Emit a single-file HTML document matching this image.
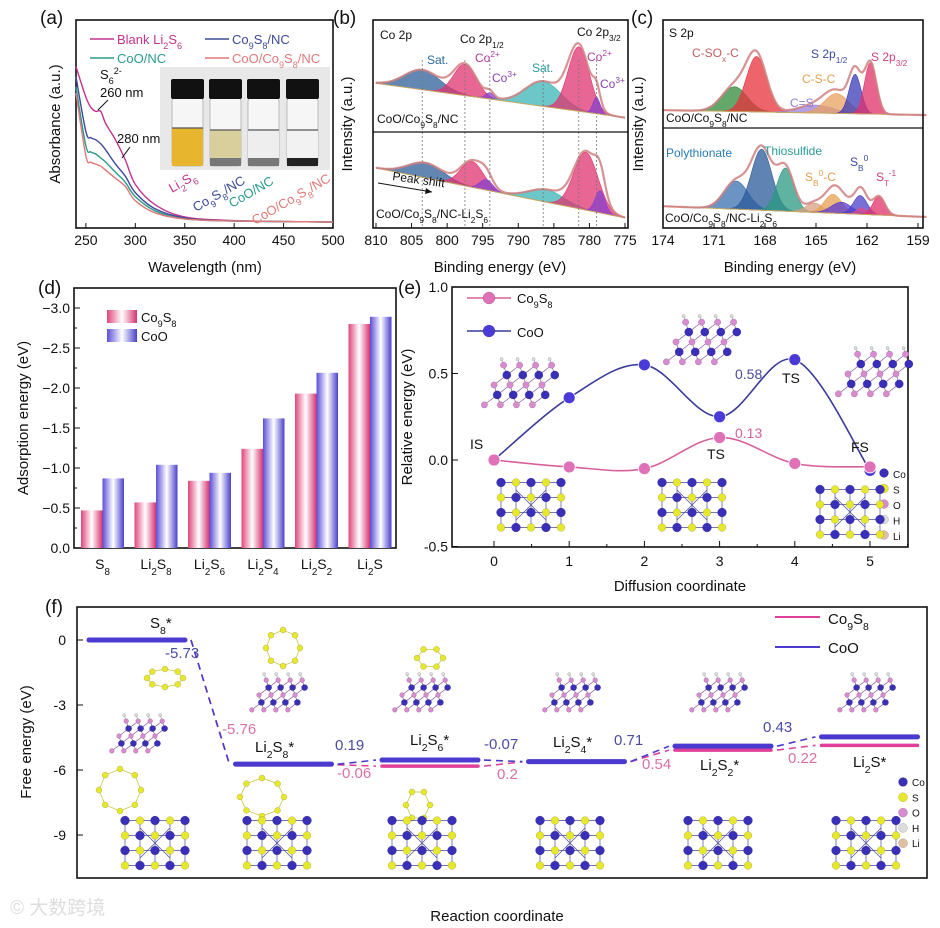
<!DOCTYPE html>
<html><head><meta charset="utf-8"><title>Figure</title>
<style>
html,body{margin:0;padding:0;background:#fff;}
svg{display:block;font-family:"Liberation Sans","Noto Sans CJK SC",sans-serif;}
</style></head>
<body>
<svg id="fig" width="940" height="928" viewBox="0 0 940 928" xmlns="http://www.w3.org/2000/svg">
<defs>
<linearGradient id="gPink" x1="0" x2="1" y1="0" y2="0"><stop offset="0" stop-color="#e0457a"/><stop offset="0.5" stop-color="#fff"/><stop offset="1" stop-color="#d63370"/></linearGradient>
<linearGradient id="gBlue" x1="0" x2="1" y1="0" y2="0"><stop offset="0" stop-color="#5a4ed8"/><stop offset="0.5" stop-color="#fff"/><stop offset="1" stop-color="#4a40cc"/></linearGradient>
</defs>
</svg>
<script>
// ---------- DATA ----------
const aWave=[240,250,255,260,265,270,280,290,300,320,350,400,500];
const aBlank=[0.77,0.62,0.57,0.55,0.55,0.49,0.41,0.31,0.19,0.09,0.03,0.012,0.005];
const aCo9S8=[0.72,0.45,0.42,0.41,0.39,0.36,0.29,0.23,0.15,0.07,0.025,0.01,0.005];
const aCoO=[0.67,0.38,0.35,0.34,0.32,0.30,0.25,0.20,0.13,0.06,0.02,0.01,0.005];
const aCoOCo9S8=[0.64,0.33,0.30,0.29,0.28,0.26,0.22,0.18,0.11,0.05,0.02,0.01,0.005];
const aTicks=[250,300,350,400,450,500];
const bTopCenters=[803.5,797.5,794.0,786.5,781.5,779.0];
const bTopAmps=[0.19,0.30,0.06,0.24,0.62,0.16];
const bTopWidths=[2.5,1.6,0.6,2.5,1.5,0.5];
const bTopBg=[0.43,0.10];
const bBotCenters=[803.0,796.5,794.5,786.0,780.5,778.5];
const bBotAmps=[0.17,0.29,0.12,0.14,0.65,0.25];
const bBotWidths=[2.5,1.6,0.9,2.5,1.7,0.7];
const bBotBg=[0.64,0.08];
const bTicks=[810,805,800,795,790,785,780,775];
const cTopCenters=[169.8,168.5,165.0,163.8,162.7,161.8];
const cTopAmps=[0.25,0.56,0.08,0.20,0.40,0.52];
const cTopWidths=[0.75,0.6,1.0,0.7,0.35,0.35];
const cTopBg=[0.13,0.08];
const cBotCenters=[169.7,168.2,166.8,165.1,164.0,163.5,162.4,162.3,161.3];
const cBotAmps=[0.30,0.65,0.46,0.10,0.20,0.12,0.20,0.07,0.20];
const cBotWidths=[0.7,0.6,0.5,0.5,0.5,0.6,0.4,0.3,0.35];
const cBotBg=[0.20,0.085];
const cTicks=[174,171,168,165,162,159];
const dCats=['S<tspan baseline-shift="sub" font-size="70%">8</tspan>','Li<tspan baseline-shift="sub" font-size="70%">2</tspan>S<tspan baseline-shift="sub" font-size="70%">8</tspan>','Li<tspan baseline-shift="sub" font-size="70%">2</tspan>S<tspan baseline-shift="sub" font-size="70%">6</tspan>','Li<tspan baseline-shift="sub" font-size="70%">2</tspan>S<tspan baseline-shift="sub" font-size="70%">4</tspan>','Li<tspan baseline-shift="sub" font-size="70%">2</tspan>S<tspan baseline-shift="sub" font-size="70%">2</tspan>','Li<tspan baseline-shift="sub" font-size="70%">2</tspan>S'];
const dCo9S8=[-0.47,-0.57,-0.84,-1.24,-1.93,-2.80];
const dCoO=[-0.87,-1.04,-0.94,-1.62,-2.19,-2.89];
const dTicks=[0,-0.5,-1.0,-1.5,-2.0,-2.5,-3.0];
const eCoords=[0,1,2,3,4,5];
const eCoO=[0,0.36,0.55,0.25,0.58,-0.06];
const eCo9S8=[0,-0.04,-0.05,0.13,-0.02,-0.04];
const eYTicks=[1.0,0.5,0.0,-0.5];
const fSteps=['S8','Li2S8','Li2S6','Li2S4','Li2S2','Li2S'];
const fCoO=[0,-5.73,-5.54,-5.61,-4.90,-4.47];
const fCo9S8=[0,-5.76,-5.82,-5.62,-5.08,-4.86];
const fYTicks=[0,-3,-6,-9];

// ---------- HELPERS ----------
const NS='http://www.w3.org/2000/svg';
const svg=document.getElementById('fig');
function mk(tag,attrs,parent){const e=document.createElementNS(NS,tag);for(const k in attrs)e.setAttribute(k,attrs[k]);(parent||svg).appendChild(e);return e;}
function T(x,y,s,attrs,parent,name){const e=mk('text',Object.assign({x:x,y:y,'font-size':13,fill:'#111'},attrs||{}),parent);e.innerHTML=s;


return e;}
function G(name,parent){const g=mk('g',{},parent);


return g;}
function cr(pts){let d='M'+pts[0][0]+','+pts[0][1];for(let i=0;i<pts.length-1;i++){const p0=pts[Math.max(0,i-1)],p1=pts[i],p2=pts[i+1],p3=pts[Math.min(pts.length-1,i+2)];
const c1=[p1[0]+(p2[0]-p0[0])/6,p1[1]+(p2[1]-p0[1])/6],c2=[p2[0]-(p3[0]-p1[0])/6,p2[1]-(p3[1]-p1[1])/6];
d+=' C'+c1[0].toFixed(1)+','+c1[1].toFixed(1)+' '+c2[0].toFixed(1)+','+c2[1].toFixed(1)+' '+p2[0].toFixed(1)+','+p2[1].toFixed(1);}return d;}
const sub=s=>'<tspan baseline-shift="sub" font-size="70%">'+s+'</tspan>';
const sup=s=>'<tspan baseline-shift="super" font-size="70%">'+s+'</tspan>';
function box(x1,y1,x2,y2,parent,name){const r=mk('rect',{x:x1,y:y1,width:x2-x1,height:y2-y1,fill:'none',stroke:'#111','stroke-width':1.6},parent);

}
function ytitle(x,y,s,parent,name){return T(x,y,s,{'font-size':15,'text-anchor':'middle',transform:'rotate(-90 '+x+' '+y+')'},parent,name);}

function atom(x,y,r,c,parent){mk('circle',{cx:x,cy:y,r:r,fill:c,stroke:'rgba(0,0,0,0.25)','stroke-width':0.5},parent);}
function coo(cx,cy,s,name){const g=G(name);const P=[];const R=5,C=4;
for(let r=0;r<R;r++){P[r]=[];for(let c=0;c<C;c++){P[r][c]=[cx+(c-1.5+(r%2)*0.5-(r-2)*0.3)*s,cy+(r-2)*s*0.62];}}
for(let r=0;r<R-1;r++)for(let c=0;c<C;c++){const a=P[r][c];[P[r+1][c],P[r+1][c+(r%2?1:-1)]].forEach(b=>{if(b)mk('line',{x1:a[0],y1:a[1],x2:b[0],y2:b[1],stroke:'#8a5a9a','stroke-width':0.7},g);});}
for(let c=0;c<C;c++){const p=P[0][c];mk('line',{x1:p[0],y1:p[1],x2:p[0]-2,y2:p[1]-6,stroke:'#999','stroke-width':0.6},g);atom(p[0]-2,p[1]-6,1.6,'#ddd',g);}
for(let r=0;r<R;r++)for(let c=0;c<C;c++){const p=P[r][c];if(r%2)atom(p[0],p[1],s*0.26,'#3a2fb8',g);else atom(p[0],p[1],s*0.2,'#d98ad0',g);}
return g;}
function co9(cx,cy,s,name){const g=G(name);
for(let r=0;r<4;r++){mk('line',{x1:cx-2*s,y1:cy+(r-1.5)*s,x2:cx+2*s,y2:cy+(r-1.5)*s,stroke:'#4a4a9a','stroke-width':0.7},g);}
for(let c=0;c<5;c++){mk('line',{x1:cx+(c-2)*s,y1:cy-1.5*s,x2:cx+(c-2)*s,y2:cy+1.5*s,stroke:'#4a4a9a','stroke-width':0.7},g);}
mk('line',{x1:cx-s,y1:cy-s,x2:cx+s,y2:cy+s,stroke:'#4a4a9a','stroke-width':0.7},g);
mk('line',{x1:cx+s,y1:cy-s,x2:cx-s,y2:cy+s,stroke:'#4a4a9a','stroke-width':0.7},g);
for(let r=0;r<4;r++)for(let c=0;c<5;c++){const x=cx+(c-2)*s,y=cy+(r-1.5)*s;if((r+c)%2)atom(x,y,s*0.26,'#e8e82a',g);else atom(x,y,s*0.3,'#3a2fb8',g);}
return g;}
function ring(cx,cy,rx,ry,n,name){const g=G(name);const pts=[];for(let i=0;i<n;i++){const a=i/n*Math.PI*2;pts.push([cx+rx*Math.cos(a),cy+ry*Math.sin(a)]);}
mk('polygon',{points:pts.map(p=>p.join(',')).join(' '),fill:'none',stroke:'#c8c840','stroke-width':0.8},g);
pts.forEach(p=>atom(p[0],p[1],3,'#e8e82a',g));return g;}

[['(a)',40,24],['(b)',333,24],['(c)',631,24],['(d)',38,294],['(e)',398,294],['(f)',45,613]].forEach(p=>{T(p[1],p[2],p[0],{'font-size':19},null,'panel-label-'+p[0].replace(/[()]/g,''));});

// ---------- (a) ----------
(function(){
const g=G('panel-a');
const X=v=>76+(v-240)*(333-76)/260, Y=a=>223-a*203;
box(76,20,333,228,g,'plot-frame-a');
aTicks.forEach(t=>{mk('line',{x1:X(t),y1:228,x2:X(t),y2:223,stroke:'#111'},g);T(X(t),245,String(t),{'font-size':14,'text-anchor':'middle'},g,'x-tick-'+t);});
T(205,272,'Wavelength (nm)',{'font-size':15,'text-anchor':'middle'},g,'x-axis-title-a');
ytitle(60,124,'Absorbance (a.u.)',g,'y-axis-title-a');
const ins=G('vial-photo-inset',g);
mk('rect',{x:160,y:67,width:170,height:103,fill:'#e8e8e8'},ins);
const liq=[['#e8b52e',128],['#d8cf9c',130],['#eeeeee',130],['#f2f2f2',130]];
[172,210,248,287].forEach((x,i)=>{mk('rect',{x:x,y:98,width:31,height:68,fill:'#f6f6f6',stroke:'#999','stroke-width':0.6,rx:3},ins);
mk('rect',{x:x,y:liq[i][1],width:31,height:166-liq[i][1],fill:liq[i][0]},ins);
mk('line',{x1:x,y1:liq[i][1],x2:x+31,y2:liq[i][1],stroke:'#555','stroke-width':1.2},ins);
if(i>0)mk('rect',{x:x,y:158,width:31,height:8,fill:i==3?'#222':'#777'},ins);
mk('rect',{x:x-1,y:79,width:33,height:20,fill:'#111',rx:2},ins);});
const series=[['blank-li2s6',aBlank,'#c2338e'],['co9s8-nc',aCo9S8,'#3d4a9a'],['coo-nc',aCoO,'#2a9a8a'],['coo-co9s8-nc',aCoOCo9S8,'#e07878']];
series.forEach(s=>{const p=mk('path',{d:cr(aWave.map((w,i)=>[X(w),Y(s[1][i])])),fill:'none',stroke:s[2],'stroke-width':1.4},g);

});
const lg=[[90,39,'#c2338e','Blank Li'+sub('2')+'S'+sub('6')],[205,39,'#3d4a9a','Co'+sub('9')+'S'+sub('8')+'/NC'],[90,58,'#2a9a8a','CoO/NC'],[205,58,'#e07878','CoO/Co'+sub('9')+'S'+sub('8')+'/NC']];
lg.forEach((l,i)=>{mk('line',{x1:l[0],y1:l[1],x2:l[0]+24,y2:l[1],stroke:l[2],'stroke-width':1.5},g);T(l[0]+27,l[1]+5,l[3],{'font-size':13,fill:l[2]},g,'legend-entry-a-'+i);});
T(100,79,'S'+sub('6')+sup('2-'),{'font-size':13},g,'s6-annotation');
T(100,97,'260 nm',{'font-size':13},g,'260nm-annotation');
mk('line',{x1:108,y1:100,x2:98,y2:110,stroke:'#111'},g);
T(117,143,'280 nm',{'font-size':13},g,'280nm-annotation');
mk('line',{x1:130,y1:147,x2:122,y2:158,stroke:'#111'},g);
[[172,193,'#c2338e','Li'+sub('2')+'S'+sub('6')],[196,212,'#3d4a9a','Co'+sub('9')+'S'+sub('8')+'/NC'],[232,208,'#2a9a8a','CoO/NC'],[255,225,'#e07878','CoO/Co'+sub('9')+'S'+sub('8')+'/NC']].forEach((l,i)=>{T(l[0],l[1],l[3],{'font-size':13,fill:l[2],transform:'rotate(-30 '+l[0]+' '+l[1]+')'},g,'sample-label-'+i);});
})();

function xps(g,X,E0,E1,yb,yt,centers,amps,widths,bg,colors,names){
const Y=v=>yb-v*(yb-yt);
const bgf=E=>bg[1]+(bg[0]-bg[1])*(E-E1)/(E0-E1);
const gauss=(E,i)=>amps[i]*Math.exp(-0.5*Math.pow((E-centers[i])/widths[i],2));
const N=160;const Es=[];for(let k=0;k<=N;k++)Es.push(E0+(E1-E0)*k/N);
centers.forEach((c,i)=>{const lo=c+4*widths[i],hi=c-4*widths[i];const es=Es.filter(E=>E<=lo&&E>=hi);
let d='M'+X(es[0])+','+Y(bgf(es[0]));es.forEach(E=>{d+=' L'+X(E).toFixed(1)+','+Y(bgf(E)+gauss(E,i)).toFixed(1);});
for(let k=es.length-1;k>=0;k--)d+=' L'+X(es[k]).toFixed(1)+','+Y(bgf(es[k])).toFixed(1);
const p=mk('path',{d:d+'Z',fill:colors[i],'fill-opacity':0.75,stroke:colors[i],'stroke-width':0.6},g);

});
const bl=mk('path',{d:'M'+X(E0)+','+Y(bgf(E0))+' L'+X(E1)+','+Y(bgf(E1)),stroke:'#c9a860','stroke-width':1,fill:'none'},g);


let d='';Es.forEach((E,k)=>{let v=bgf(E);centers.forEach((c,i)=>v+=gauss(E,i));d+=(k?' L':'M')+X(E).toFixed(1)+','+Y(v).toFixed(1);});
const env=mk('path',{d:d,fill:'none',stroke:'#d08080','stroke-width':2.2,'stroke-opacity':0.85},g);


}

// ---------- (b) ----------
(function(){
const g=G('panel-b');
const X=E=>376+(810-E)*(625-376)/35;
xps(g,X,810,775,128,24,bTopCenters,bTopAmps,bTopWidths,bTopBg,['#2e5f9a','#e0336f','#8a3fd0','#3bb5b5','#e0336f','#8a3fd0'],'co2p-top');
xps(g,X,810,775,225,136,bBotCenters,bBotAmps,bBotWidths,bBotBg,['#2e5f9a','#e0336f','#8a3fd0','#3bb5b5','#e0336f','#8a3fd0'],'co2p-bottom');
bTopCenters.forEach(c=>{mk('line',{x1:X(c),y1:60,x2:X(c),y2:226,stroke:'#777','stroke-dasharray':'2,2','stroke-width':0.8},g);});
mk('line',{x1:373,y1:132,x2:628,y2:132,stroke:'#111','stroke-width':1.2},g);
box(373,20,628,228,g,'plot-frame-b');
bTicks.forEach(t=>{mk('line',{x1:X(t),y1:228,x2:X(t),y2:223,stroke:'#111'},g);T(X(t),245,String(t),{'font-size':14,'text-anchor':'middle'},g,'x-tick-b-'+t);});
T(500,272,'Binding energy (eV)',{'font-size':15,'text-anchor':'middle'},g,'x-axis-title-b');
ytitle(352,124,'Intensity (a.u.)',g,'y-axis-title-b');
T(380,39,'Co 2p',{'font-size':12},g,'co2p-title');
T(460,43,'Co 2p'+sub('1/2'),{'font-size':12},g,'co2p12-label');
T(577,36,'Co 2p'+sub('3/2'),{'font-size':12},g,'co2p32-label');
T(427,64,'Sat.',{'font-size':12,fill:'#2a6a9a'},g,'sat-label-1');
T(475,62,'Co'+sup('2+'),{'font-size':12,fill:'#b03a9a'},g,'co2-label-1');
T(492,82,'Co'+sup('3+'),{'font-size':12,fill:'#8a3fb0'},g,'co3-label-1');
T(532,72,'Sat.',{'font-size':12,fill:'#2a9a9a'},g,'sat-label-2');
T(587,61,'Co'+sup('2+'),{'font-size':12,fill:'#b03a9a'},g,'co2-label-2');
T(600,88,'Co'+sup('3+'),{'font-size':12,fill:'#8a3fb0'},g,'co3-label-2');
T(377,123,'CoO/Co'+sub('9')+'S'+sub('8')+'/NC',{'font-size':12},g,'sample-label-b-top');
T(392,180,'Peak shift',{'font-size':12,transform:'rotate(8 392 180)'},g,'peak-shift-label');
mk('line',{x1:378,y1:183,x2:432,y2:192,stroke:'#111'},g);
mk('polygon',{points:'432,192 426,188 425,194',fill:'#111'},g);
T(376,218,'CoO/Co'+sub('9')+'S'+sub('8')+'/NC-Li'+sub('2')+'S'+sub('6'),{'font-size':12},g,'sample-label-b-bottom');
})();

// ---------- (c) ----------
(function(){
const g=G('panel-c');
const X=E=>663+(174-E)*(918-663)/15;
xps(g,X,174,158.5,123,24,cTopCenters,cTopAmps,cTopWidths,cTopBg,['#2f8a3a','#e8303a','#9a80d8','#e8a060','#3a3ab8','#e0306a'],'s2p-top');
xps(g,X,174,158.5,225,131,cBotCenters,cBotAmps,cBotWidths,cBotBg,['#3a70b0','#2a5a9a','#2a9a80','#d8a080','#e8a050','#5a3ad0','#4a40c8','#e04a90','#e0306a'],'s2p-bottom');
mk('line',{x1:663,y1:128,x2:923,y2:128,stroke:'#111','stroke-width':1.2},g);
box(663,20,923,228,g,'plot-frame-c');
cTicks.forEach(t=>{mk('line',{x1:X(t),y1:228,x2:X(t),y2:223,stroke:'#111'},g);T(X(t),245,String(t),{'font-size':14,'text-anchor':'middle'},g,'x-tick-c-'+t);});
T(790,272,'Binding energy (eV)',{'font-size':15,'text-anchor':'middle'},g,'x-axis-title-c');
ytitle(643,124,'Intensity (a.u.)',g,'y-axis-title-c');
T(669,37,'S 2p',{'font-size':12},g,'s2p-title');
T(692,57,'C-SO'+sub('x')+'-C',{'font-size':12,fill:'#c06060'},g,'csoxc-label');
T(811,58,'S 2p'+sub('1/2'),{'font-size':12,fill:'#3a4aa0'},g,'s2p12-label');
T(871,61,'S 2p'+sub('3/2'),{'font-size':12,fill:'#d04080'},g,'s2p32-label');
T(802,83,'C-S-C',{'font-size':12,fill:'#e0a050'},g,'csc-label');
T(790,107,'C=S',{'font-size':12,fill:'#9080d0'},g,'cs-label');
T(666,122,'CoO/Co'+sub('9')+'S'+sub('8')+'/NC',{'font-size':12},g,'sample-label-c-top');
T(666,157,'Polythionate',{'font-size':12,fill:'#2a7ab0'},g,'polythionate-label');
T(764,155,'Thiosulfide',{'font-size':12,fill:'#2a9a9a'},g,'thiosulfide-label');
T(805,181,'S'+sub('B')+sup('0')+'-C',{'font-size':12,fill:'#e0a050'},g,'s8c-label');
T(850,166,'S'+sub('B')+sup('0'),{'font-size':12,fill:'#3a4aa0'},g,'sb-label');
T(876,181,'S'+sub('T')+sup('-1'),{'font-size':12,fill:'#d04080'},g,'st-label');
T(665,222,'CoO/Co'+sub('9')+'S'+sub('8')+'/NC-Li'+sub('2')+'S'+sub('6'),{'font-size':12},g,'sample-label-c-bottom');
})();

// ---------- (d) ----------
(function(){
const g=G('panel-d');
const Y=v=>548+v*80;
const cx=i=>102.5+i*53.5;
box(74,288,396,548,g,'plot-frame-d');
dTicks.forEach(t=>{mk('line',{x1:74,y1:Y(t),x2:80,y2:Y(t),stroke:'#111'},g);T(70,Y(t)+5,t.toFixed(1).replace('-','−'),{'font-size':14,'text-anchor':'end'},g,'y-tick-d');});
for(let t=-0.25;t>-3.1;t-=0.5)mk('line',{x1:74,y1:Y(t),x2:77,y2:Y(t),stroke:'#111'},g);
dCats.forEach((c,i)=>{mk('line',{x1:cx(i),y1:548,x2:cx(i),y2:542,stroke:'#111'},g);T(cx(i),569,c,{'font-size':14,'text-anchor':'middle'},g,'x-tick-d-'+i);});
dCo9S8.forEach((v,i)=>{const r=mk('rect',{x:cx(i)-21.5,y:Y(v),width:21.5,height:548-Y(v),fill:'url(#gPink)'},g);

});
dCoO.forEach((v,i)=>{const r=mk('rect',{x:cx(i),y:Y(v),width:21.5,height:548-Y(v),fill:'url(#gBlue)'},g);

});
ytitle(28,418,'Adsorption energy (eV)',g,'y-axis-title-d');
mk('rect',{x:107,y:310,width:30,height:13,fill:'url(#gPink)'},g);
T(141,322,'Co'+sub('9')+'S'+sub('8'),{'font-size':13},g,'legend-co9s8-d');
mk('rect',{x:107,y:329,width:30,height:13,fill:'url(#gBlue)'},g);
T(141,341,'CoO',{'font-size':13},g,'legend-coo-d');
})();

// ---------- (e) ----------
(function(){
const g=G('panel-e');
const X=v=>494+v*75.2, Y=v=>460-v*173;
coo(518,385,16,'coo-structure-is');coo(700,342,16,'coo-structure-ts');coo(872,374,16,'coo-structure-fs');
co9(531,505,15,'co9s8-structure-is');co9(692,505,15,'co9s8-structure-ts');co9(850,512,15,'co9s8-structure-fs');
box(452,287,908,547,g,'plot-frame-e');
eYTicks.forEach(t=>{mk('line',{x1:452,y1:Y(t),x2:458,y2:Y(t),stroke:'#111'},g);T(448,Y(t)+5,t.toFixed(1),{'font-size':14,'text-anchor':'end'},g,'y-tick-e');});
eCoords.forEach(t=>{mk('line',{x1:X(t),y1:547,x2:X(t),y2:541,stroke:'#111'},g);mk('line',{x1:X(t+0.5),y1:547,x2:X(t+0.5),y2:544,stroke:'#111'},g);T(X(t),566,String(t),{'font-size':14,'text-anchor':'middle'},g,'x-tick-e-'+t);});
T(680,591,'Diffusion coordinate',{'font-size':15,'text-anchor':'middle'},g,'x-axis-title-e');
ytitle(412,417,'Relative energy (eV)',g,'y-axis-title-e');
[['coo',eCoO,'#3a3a9a','#4a3ad8'],['co9s8',eCo9S8,'#d8609a','#e070b8']].forEach(s=>{
const p=mk('path',{d:cr(eCoords.map((c,i)=>[X(c),Y(s[1][i])])),fill:'none',stroke:s[2],'stroke-width':1.6},g);


s[1].forEach((v,i)=>{const c=mk('circle',{cx:X(eCoords[i]),cy:Y(v),r:6,fill:s[3],stroke:'#fff','stroke-width':0.8},g);

});});
mk('line',{x1:467,y1:298,x2:511,y2:298,stroke:'#d8609a','stroke-width':1.5},g);atom(489,298,6,'#e070b8',g);
T(517,303,'Co'+sub('9')+'S'+sub('8'),{'font-size':13},g,'legend-co9s8-e');
mk('line',{x1:467,y1:331,x2:511,y2:331,stroke:'#3a3a9a','stroke-width':1.5},g);atom(489,331,6,'#4a3ad8',g);
T(517,337,'CoO',{'font-size':13},g,'legend-coo-e');
T(470,449,'IS',{'font-size':14},g,'is-label');
T(851,452,'FS',{'font-size':14},g,'fs-label');
T(707,459,'TS',{'font-size':14},g,'ts-label-1');
T(782,383,'TS',{'font-size':14},g,'ts-label-2');
T(735,379,'0.58',{'font-size':14,fill:'#4a4a9a'},g,'value-058');
T(735,438,'0.13',{'font-size':14,fill:'#d8609a'},g,'value-013');
[['Co','#3a2fb8'],['S','#e8e82a'],['O','#d98ad0'],['H','#ddd'],['Li','#e0c0a0']].forEach((e,i)=>{atom(884,473+i*15.5,4.5,e[1],g);T(893,478+i*15.5,e[0],{'font-size':10},g,'element-legend-e-'+e[0]);});
})();

// ---------- (f) ----------
(function(){
const g=G('panel-f');
const Y=v=>640-v*21.67;
const xc=i=>137+i*146.5, hw=48;
ring(165,678,18,9,8,'s8-ring');coo(137,736,12,'coo-s8');ring(120,790,21,21,8,'s8-ring-co9s8');co9(155,843,15,'co9s8-s8');
ring(283,648,17,18,8,'li2s8-ring');coo(277,695,12,'coo-li2s8');ring(262,797,22,19,8,'li2s8-ring-co9s8');co9(277,843,15,'co9s8-li2s8');
ring(430,658,13,10,6,'li2s6-ring');coo(420,695,12,'coo-li2s6');ring(418,805,12,15,6,'li2s6-ring-co9s8');co9(422,843,15,'co9s8-li2s6');
coo(570,695,12,'coo-li2s4');co9(570,843,15,'co9s8-li2s4');
coo(717,695,12,'coo-li2s2');co9(718,843,15,'co9s8-li2s2');
coo(865,695,12,'coo-li2s');co9(866,843,15,'co9s8-li2s');
box(77,607,927,878,g,'plot-frame-f');
fYTicks.forEach(t=>{mk('line',{x1:77,y1:Y(t),x2:83,y2:Y(t),stroke:'#111'},g);T(66,Y(t)+5,String(t),{'font-size':14,'text-anchor':'end'},g,'y-tick-f');});
ytitle(31,742,'Free energy (eV)',g,'y-axis-title-f');
T(497,921,'Reaction coordinate',{'font-size':15,'text-anchor':'middle'},g,'x-axis-title-f');
[['co9s8',fCo9S8,'#e0409a',3.5],['coo',fCoO,'#4a3ad0',5]].forEach(s=>{
s[1].forEach((v,i)=>{const l=mk('line',{x1:xc(i)-hw,y1:Y(v),x2:xc(i)+hw,y2:Y(v),stroke:s[2],'stroke-width':s[3],'stroke-linecap':'round'},g);


if(i<s[1].length-1){const c=mk('line',{x1:xc(i)+hw+6,y1:Y(v),x2:xc(i+1)-hw-6,y2:Y(s[1][i+1]),stroke:s[2],'stroke-width':1.6,'stroke-dasharray':'7,5'},g);

}});});
const L=[[150,628,'S'+sub('8')+'*','#111'],[165,658,'-5.73','#4a4aa0'],[222,734,'-5.76','#d870a8'],[255,752,'Li'+sub('2')+'S'+sub('8')+'*','#111'],[335,750,'0.19','#4a4aa0'],[337,778,'-0.06','#d870a8'],[410,745,'Li'+sub('2')+'S'+sub('6')+'*','#111'],[484,749,'-0.07','#4a4aa0'],[497,779,'0.2','#d870a8'],[553,747,'Li'+sub('2')+'S'+sub('4')+'*','#111'],[614,745,'0.71','#4a4aa0'],[642,769,'0.54','#d870a8'],[700,770,'Li'+sub('2')+'S'+sub('2')+'*','#111'],[763,732,'0.43','#4a4aa0'],[788,763,'0.22','#d870a8'],[853,767,'Li'+sub('2')+'S*','#111']];
L.forEach((l,i)=>T(l[0],l[1],l[2],{'font-size':15,fill:l[3]},g,'energy-label-f-'+i));
mk('line',{x1:775,y1:617,x2:820,y2:617,stroke:'#e0409a','stroke-width':2},g);
T(828,624,'Co'+sub('9')+'S'+sub('8'),{'font-size':15},g,'legend-co9s8-f');
mk('line',{x1:775,y1:647,x2:820,y2:647,stroke:'#4a3ad0','stroke-width':2},g);
T(828,653,'CoO',{'font-size':15},g,'legend-coo-f');
[['Co','#3a2fb8'],['S','#e8e82a'],['O','#d98ad0'],['H','#ddd'],['Li','#e0c0a0']].forEach((e,i)=>{atom(903,782+i*15.3,4.5,e[1],g);T(912,786+i*15.3,e[0],{'font-size':10},g,'element-legend-f-'+e[0]);});
})();
T(10,914,'© 大数跨境',{'font-size':19,fill:'#dddddd'},null,'watermark');
</script>
</body></html>
